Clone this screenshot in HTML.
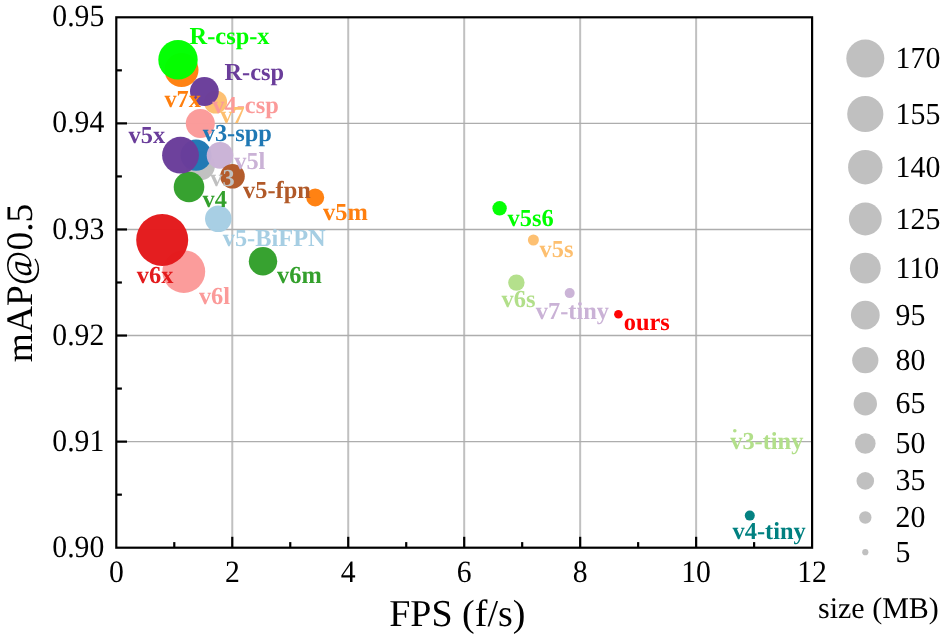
<!DOCTYPE html>
<html><head><meta charset="utf-8"><title>chart</title>
<style>
html,body{margin:0;padding:0;background:#fff;}
svg{display:block;will-change:transform;}
text{font-family:"Liberation Serif",serif;text-rendering:geometricPrecision;}
.t{font-size:30px;fill:#000;}
.l{font-size:24.4px;font-weight:bold;}
</style></head><body>
<svg width="944" height="639" viewBox="0 0 944 639">
<rect width="944" height="639" fill="#fff"/>
<g stroke="#c0c0c0" stroke-width="2" fill="none">
<line x1="232.27" y1="17.30" x2="232.27" y2="547.70"/>
<line x1="348.23" y1="17.30" x2="348.23" y2="547.70"/>
<line x1="464.20" y1="17.30" x2="464.20" y2="547.70"/>
<line x1="580.17" y1="17.30" x2="580.17" y2="547.70"/>
<line x1="696.13" y1="17.30" x2="696.13" y2="547.70"/>
</g>
<g stroke="#adadad" stroke-width="1.4" fill="none">
<line x1="116.30" y1="123.38" x2="812.10" y2="123.38"/>
<line x1="116.30" y1="229.46" x2="812.10" y2="229.46"/>
<line x1="116.30" y1="335.54" x2="812.10" y2="335.54"/>
<line x1="116.30" y1="441.62" x2="812.10" y2="441.62"/>
</g>
<g fill-opacity="0.98">
<circle cx="200.2" cy="165.5" r="14.8" fill="#c0c0c0"/>
<circle cx="196.0" cy="155.2" r="15.6" fill="#1f78b4"/>
<circle cx="220.0" cy="155.4" r="13.3" fill="#cab2d6"/>
<circle cx="189.0" cy="187.0" r="15.3" fill="#33a02c"/>
<circle cx="180.5" cy="155.2" r="18.4" fill="#6a3d9a"/>
<circle cx="232.5" cy="176.2" r="12.3" fill="#b15928"/>
<circle cx="181.5" cy="70.0" r="17.0" fill="#ff7f0e"/>
<circle cx="178.0" cy="59.7" r="19.7" fill="#00ff00"/>
<circle cx="215.5" cy="102.0" r="11.6" fill="#fdbf6f"/>
<circle cx="204.4" cy="91.5" r="14.4" fill="#6a3d9a"/>
<circle cx="200.3" cy="123.4" r="14.5" fill="#fb9a99"/>
<circle cx="315.2" cy="197.5" r="9.0" fill="#ff7f0e"/>
<circle cx="218.3" cy="218.8" r="13.3" fill="#a6cee3"/>
<circle cx="183.8" cy="271.6" r="21.4" fill="#fb9a99"/>
<circle cx="162.2" cy="239.9" r="26.0" fill="#e31a1c"/>
<circle cx="263.0" cy="261.3" r="14.2" fill="#33a02c"/>
<circle cx="499.6" cy="208.3" r="7.2" fill="#00ff00"/>
<circle cx="533.4" cy="240.0" r="5.5" fill="#fdbf6f"/>
<circle cx="516.4" cy="282.6" r="8.2" fill="#b2df8a"/>
<circle cx="569.7" cy="293.1" r="5.0" fill="#cab2d6"/>
<circle cx="618.4" cy="314.3" r="4.3" fill="#ff0000"/>
<circle cx="734.8" cy="430.7" r="1.8" fill="#b2df8a"/>
<circle cx="749.8" cy="515.6" r="5.0" fill="#008080"/>
</g>
<g class="l">
<text x="189.6" y="44.0" fill="#00ff00">R-csp-x</text>
<text x="224.5" y="79.7" fill="#6a3d9a">R-csp</text>
<text x="164.4" y="107.2" fill="#ff7f0e">v7x</text>
<text x="212.3" y="113.0" fill="#fb9a99">v4-csp</text>
<text x="220.3" y="123.4" fill="#fdbf6f">v7</text>
<text x="128.6" y="143.3" fill="#6a3d9a">v5x</text>
<text x="202.7" y="140.9" fill="#1f78b4">v3-spp</text>
<text x="234.2" y="168.8" fill="#cab2d6">v5l</text>
<text x="210.2" y="186.2" fill="#c0c0c0">v3</text>
<text x="243.0" y="197.6" fill="#b15928">v5-fpn</text>
<text x="323.1" y="220.2" fill="#ff7f0e">v5m</text>
<text x="202.6" y="206.5" fill="#33a02c">v4</text>
<text x="222.7" y="245.7" fill="#a6cee3">v5-BiFPN</text>
<text x="277.0" y="282.7" fill="#33a02c">v6m</text>
<text x="136.8" y="283.2" fill="#e31a1c">v6x</text>
<text x="198.9" y="304.3" fill="#fb9a99">v6l</text>
<text x="507.5" y="226.0" fill="#00ff00">v5s6</text>
<text x="539.6" y="256.8" fill="#fdbf6f">v5s</text>
<text x="501.6" y="307.0" fill="#b2df8a">v6s</text>
<text x="535.8" y="319.1" fill="#cab2d6">v7-tiny</text>
<text x="623.7" y="329.6" fill="#ff0000">ours</text>
<text x="730.2" y="448.9" fill="#b2df8a">v3-tiny</text>
<text x="732.5" y="538.5" fill="#008080">v4-tiny</text>
</g>
<g stroke="#000" stroke-width="2.2" fill="none">
<line x1="174.28" y1="547.70" x2="174.28" y2="542.10"/>
<line x1="232.27" y1="547.70" x2="232.27" y2="536.80"/>
<line x1="290.25" y1="547.70" x2="290.25" y2="542.10"/>
<line x1="348.23" y1="547.70" x2="348.23" y2="536.80"/>
<line x1="406.22" y1="547.70" x2="406.22" y2="542.10"/>
<line x1="464.20" y1="547.70" x2="464.20" y2="536.80"/>
<line x1="522.18" y1="547.70" x2="522.18" y2="542.10"/>
<line x1="580.17" y1="547.70" x2="580.17" y2="536.80"/>
<line x1="638.15" y1="547.70" x2="638.15" y2="542.10"/>
<line x1="696.13" y1="547.70" x2="696.13" y2="536.80"/>
<line x1="754.12" y1="547.70" x2="754.12" y2="542.10"/>
<line x1="116.30" y1="494.66" x2="121.90" y2="494.66"/>
<line x1="116.30" y1="441.62" x2="127.00" y2="441.62"/>
<line x1="116.30" y1="388.58" x2="121.90" y2="388.58"/>
<line x1="116.30" y1="335.54" x2="127.00" y2="335.54"/>
<line x1="116.30" y1="282.50" x2="121.90" y2="282.50"/>
<line x1="116.30" y1="229.46" x2="127.00" y2="229.46"/>
<line x1="116.30" y1="176.42" x2="121.90" y2="176.42"/>
<line x1="116.30" y1="123.38" x2="127.00" y2="123.38"/>
<line x1="116.30" y1="70.34" x2="121.90" y2="70.34"/>
<rect x="116.30" y="17.30" width="695.80" height="530.40"/>
</g>
<g class="t">
<text transform="translate(116.3,582.2) scale(0.99,1.035)" text-anchor="middle">0</text>
<text transform="translate(232.3,582.2) scale(0.99,1.035)" text-anchor="middle">2</text>
<text transform="translate(348.2,582.2) scale(0.99,1.035)" text-anchor="middle">4</text>
<text transform="translate(464.2,582.2) scale(0.99,1.035)" text-anchor="middle">6</text>
<text transform="translate(580.2,582.2) scale(0.99,1.035)" text-anchor="middle">8</text>
<text transform="translate(696.1,582.2) scale(0.99,1.035)" text-anchor="middle">10</text>
<text transform="translate(812.1,582.2) scale(0.99,1.035)" text-anchor="middle">12</text>
<text transform="translate(104.3,556.7) scale(0.99,1.035)" text-anchor="end">0.90</text>
<text transform="translate(104.3,450.6) scale(0.99,1.035)" text-anchor="end">0.91</text>
<text transform="translate(104.3,344.5) scale(0.99,1.035)" text-anchor="end">0.92</text>
<text transform="translate(104.3,238.5) scale(0.99,1.035)" text-anchor="end">0.93</text>
<text transform="translate(104.3,132.4) scale(0.99,1.035)" text-anchor="end">0.94</text>
<text transform="translate(104.3,26.3) scale(0.99,1.035)" text-anchor="end">0.95</text>
</g>
<text x="457.3" y="625.5" text-anchor="middle" font-size="38" fill="#000">FPS (f/s)</text>
<text transform="translate(32.4,283) rotate(-90)" text-anchor="middle" font-size="37.5" fill="#000">mAP@0.5</text>
<g fill="#c0c0c0">
<circle cx="865.3" cy="58.6" r="19.0"/>
<circle cx="865.3" cy="114.0" r="18.1"/>
<circle cx="865.3" cy="167.2" r="17.2"/>
<circle cx="865.3" cy="219.0" r="16.4"/>
<circle cx="865.3" cy="268.2" r="15.4"/>
<circle cx="865.3" cy="315.1" r="14.4"/>
<circle cx="865.3" cy="360.2" r="13.1"/>
<circle cx="865.3" cy="403.7" r="11.7"/>
<circle cx="865.3" cy="443.5" r="10.3"/>
<circle cx="865.3" cy="480.9" r="8.8"/>
<circle cx="865.3" cy="517.5" r="6.2"/>
<circle cx="865.3" cy="552.2" r="3.1"/>
</g>
<g class="t">
<text transform="translate(895.6,68.2) scale(0.995,1.02)">170</text>
<text transform="translate(895.6,123.6) scale(0.995,1.02)">155</text>
<text transform="translate(895.6,177.2) scale(0.995,1.02)">140</text>
<text transform="translate(895.6,228.6) scale(0.995,1.02)">125</text>
<text transform="translate(895.6,278.4) scale(0.995,1.02)">110</text>
<text transform="translate(895.6,325.2) scale(0.995,1.02)">95</text>
<text transform="translate(895.6,370.3) scale(0.995,1.02)">80</text>
<text transform="translate(895.6,412.9) scale(0.995,1.02)">65</text>
<text transform="translate(895.6,452.7) scale(0.995,1.02)">50</text>
<text transform="translate(895.6,490.3) scale(0.995,1.02)">35</text>
<text transform="translate(895.6,527.4) scale(0.995,1.02)">20</text>
<text transform="translate(895.6,561.7) scale(0.995,1.02)">5</text>
</g>
<text x="818" y="618" font-size="30" fill="#000">size (MB)</text>
</svg>
</body></html>
